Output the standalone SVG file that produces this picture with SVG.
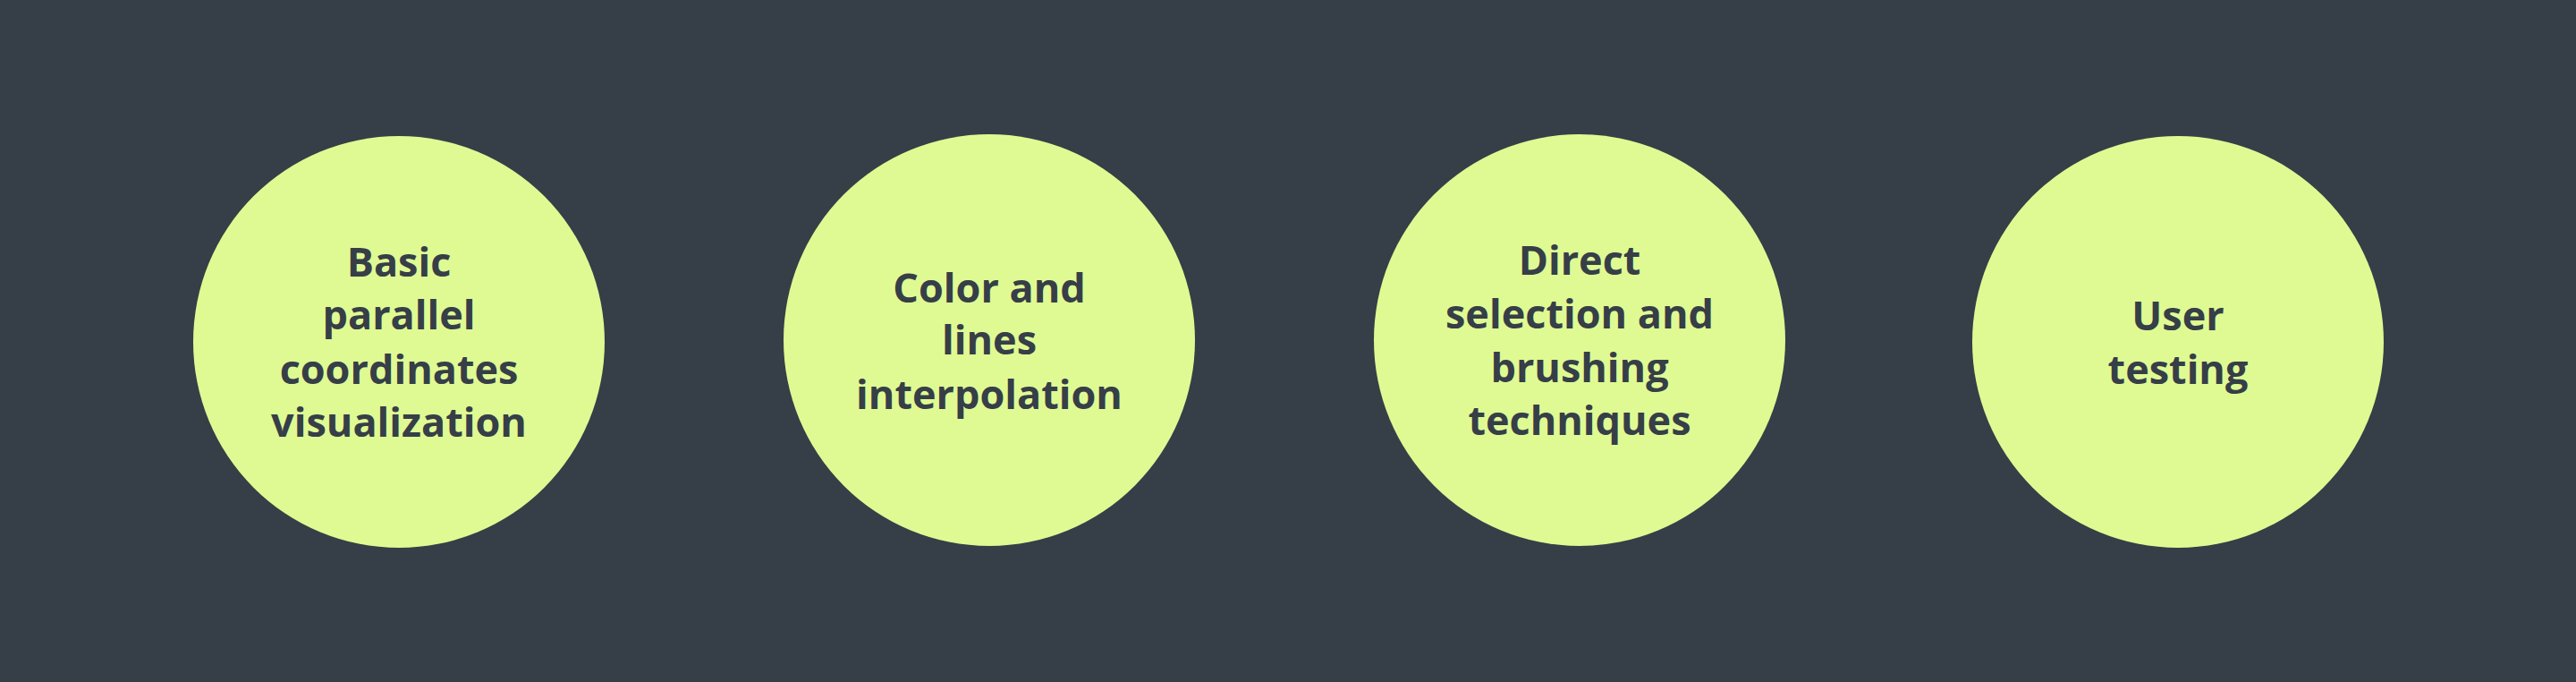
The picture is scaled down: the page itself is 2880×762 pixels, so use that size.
<svg xmlns="http://www.w3.org/2000/svg" width="2880" height="762" viewBox="0 0 2880 762">
<style>
.node circle{fill:#dffa93}
.node text{font-family:"Open Sans","Lato",sans-serif;font-weight:700;font-size:45px;fill:#363e47;text-anchor:middle}
</style>
<rect x="0" y="0" width="2880" height="762" fill="#363e47"/>
<g id="connectors"></g>
<g id="node1" class="node">
<circle cx="446" cy="382" r="230"/>
<text x="446" y="309">Basic</text>
<text x="446" y="368">parallel</text>
<text x="446" y="429">coordinates</text>
<text x="446" y="488">visualization</text>
</g>
<g id="node2" class="node">
<circle cx="1106" cy="380" r="230"/>
<text x="1106" y="338">Color and</text>
<text x="1106" y="396">lines</text>
<text x="1106" y="457">interpolation</text>
</g>
<g id="node3" class="node">
<circle cx="1766" cy="380" r="230"/>
<text x="1766" y="307">Direct</text>
<text x="1766" y="367">selection and</text>
<text x="1766" y="427">brushing</text>
<text x="1766" y="486">techniques</text>
</g>
<g id="node4" class="node">
<circle cx="2435" cy="382" r="230"/>
<text x="2435" y="369">User</text>
<text x="2435" y="429">testing</text>
</g>
</svg>
